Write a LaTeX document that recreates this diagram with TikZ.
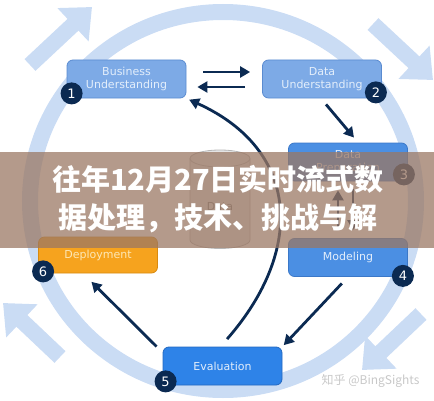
\documentclass[tikz,border=0pt]{standalone}
\usepackage{fontspec}
\usepackage{tikz}
\usetikzlibrary{arrows.meta}
\newfontfamily\cjk{Noto Sans CJK SC}
\newfontfamily\boxfont{DejaVu Sans}
\definecolor{ringblue}{HTML}{CADCF4}
\definecolor{navy}{HTML}{0B2A52}
\definecolor{lightbox}{HTML}{7DAAE6}
\definecolor{lightedge}{HTML}{5A8BD0}
\definecolor{lighttext}{HTML}{E3EEFB}
\definecolor{midbox}{HTML}{4B8FE3}
\definecolor{midedge}{HTML}{3B78C8}
\definecolor{evalbox}{HTML}{2E83E8}
\definecolor{evaledge}{HTML}{2368C0}
\definecolor{deploybox}{HTML}{F6A31E}
\definecolor{deployedge}{HTML}{D88A10}
\definecolor{deploytext}{HTML}{FDE7B5}
\definecolor{storefill}{HTML}{E4E4E4}
\definecolor{storeedge}{HTML}{B5B5B5}
\definecolor{bannerbrown}{RGB}{155,120,100}
\definecolor{markgray}{HTML}{C8C8C8}

\begin{document}
\begin{tikzpicture}[x=1pt,y=1pt,
    phase/.style={rounded corners=6pt,minimum width=119pt,minimum height=38pt,inner sep=0pt,align=center,line width=0.8pt,font=\boxfont\fontsize{11}{12.5}\selectfont},
    badge/.style={circle,fill=navy,text=white,minimum size=22pt,inner sep=0pt,font=\boxfont\fontsize{13}{13}\selectfont},
    flow/.style={draw=navy,line width=2.8pt,-{Triangle[length=10pt,width=11pt]}},
    turn/.style={draw=ringblue,line width=16pt,-{Triangle[length=26pt,width=44pt]}}]
  % Boundary
  \useasboundingbox (0,0) rectangle (434,400);
  % Cycle ring
  \draw[ringblue,line width=16pt] (223,199) ellipse [x radius=193,y radius=189];
  % Ring arrows
  \coordinate (tl0) at (30,335);  \coordinate (tl1) at (92,393);
  \coordinate (tr0) at (373,376); \coordinate (tr1) at (433,320);
  \coordinate (br0) at (421,86);  \coordinate (br1) at (362,30);
  \coordinate (bl0) at (60,43);   \coordinate (bl1) at (3,97);
  \draw[turn] (tl0) -- (tl1);
  \draw[turn] (tr0) -- (tr1);
  \draw[turn] (br0) -- (br1);
  \draw[turn] (bl0) -- (bl1);
  % Data store
  \filldraw[fill=storefill,draw=storeedge,line width=0.8pt] (190,241.5) -- (190,160) arc[start angle=180,end angle=360,x radius=30,y radius=8.5] -- (250,241.5);
  \filldraw[fill=storefill,draw=storeedge,line width=0.8pt] (220,241.5) ellipse [x radius=30,y radius=8.5];
  \node[text=gray,font=\boxfont\fontsize{11}{12}\selectfont] (store) at (220,193) {Data};
  % Phases
  \node[phase,fill=lightbox,draw=lightedge,text=lighttext] (bu) at (126.5,321) {Business\\Understanding};
  \node[phase,fill=lightbox,draw=lightedge,text=lighttext] (du) at (322,321) {Data\\Understanding};
  \node[phase,fill=midbox,draw=midedge,text=lighttext] (dp) at (348,238) {Data\\Preparation};
  \node[phase,fill=midbox,draw=midedge,text=lighttext] (mo) at (348,142.5) {Modeling};
  \node[phase,fill=evalbox,draw=evaledge,text=lighttext] (ev) at (222.5,34) {Evaluation};
  \node[phase,fill=deploybox,draw=deployedge,text=deploytext,minimum height=36pt] (de) at (98,145) {Deployment};
  % Numbers
  \node[badge] (n1) at ([shift={(5,5)}]bu.south west) {1};
  \node[badge] (n2) at ([shift={(-6,6)}]du.south east) {2};
  \node[badge] (n3) at ([shift={(-4,7)}]dp.south east) {3};
  \node[badge] (n4) at ([shift={(-5,1)}]mo.south east) {4};
  \node[badge] (n5) at ([shift={(3,4)}]ev.south west) {5};
  \node[badge] (n6) at ([shift={(5,2)}]de.south west) {6};
  % Flows
  \draw[flow,shorten <=17pt,shorten >=12pt] ([yshift=7]bu.east) -- ([yshift=7]du.west);
  \draw[flow,shorten <=17pt,shorten >=11pt] ([yshift=-8]du.west) -- ([yshift=-8]bu.east);
  \draw[flow] ([shift={(4,-6)}]du.south) -- ([shift={(6,5)}]dp.north);
  \draw[flow,shorten <=8pt,shorten >=8pt] ([xshift=5]dp.south) -- ([xshift=5]mo.north);
  \draw[flow,shorten <=8pt,shorten >=9pt] ([xshift=-10]mo.north) -- ([xshift=-10]dp.south);
  \draw[flow,shorten <=9pt,shorten >=2pt] (mo.south) -- (ev.north east);
  \draw[flow,shorten >=2pt] ([xshift=-6]ev.north west) -- ([shift={(-8,-7)}]de.south);
  \draw[flow,shorten <=10pt,shorten >=3pt] ([xshift=-2]ev.north) .. controls (305,150) and (300,250) .. (bu.south east);
  % Title banner
  \node[fill=bannerbrown,fill opacity=0.75,minimum width=434pt,minimum height=96pt,inner sep=0pt] (banner) at (217,200) {};
  \node[text=white,align=center,font=\cjk\bfseries\fontsize{29}{38}\selectfont] (title) at (218,200.5) {往年12月27日实时流式数\\据处理，技术、挑战与解};
  % Watermark
  \node[anchor=east,text=markgray,font=\cjk\fontsize{12}{12}\selectfont] (mark) at (423,19) {知乎 @BingSights};
\end{tikzpicture}
\end{document}
